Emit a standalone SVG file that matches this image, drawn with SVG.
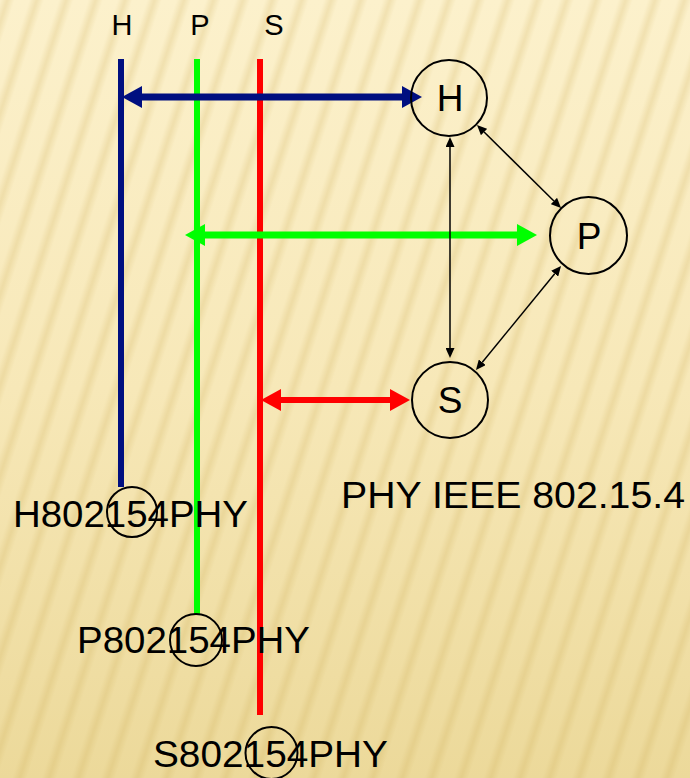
<svg xmlns="http://www.w3.org/2000/svg" width="690" height="778" viewBox="0 0 690 778">
  <defs>
    <linearGradient id="bg" x1="0" y1="0" x2="0" y2="1">
      <stop offset="0" stop-color="#fcf1cc"/>
      <stop offset="0.5" stop-color="#f7e8b8"/>
      <stop offset="1" stop-color="#ecd99a"/>
    </linearGradient>
    <linearGradient id="stripeGrad" x1="0" y1="0" x2="1" y2="0">
      <stop offset="0" stop-color="#c9a850" stop-opacity="0"/>
      <stop offset="0.5" stop-color="#c9a850" stop-opacity="0.22"/>
      <stop offset="1" stop-color="#c9a850" stop-opacity="0"/>
    </linearGradient>
    <pattern id="stripes" patternUnits="userSpaceOnUse" width="28" height="40" patternTransform="rotate(18)">
      <rect x="0" y="0" width="14" height="40" fill="url(#stripeGrad)"/>
    </pattern>
    <marker id="hBlue" markerUnits="userSpaceOnUse" viewBox="0 0 20 22" markerWidth="20" markerHeight="22" refX="0" refY="11" orient="auto-start-reverse">
      <path d="M0,0 L20,11 L0,22 Z" fill="#000f80"/>
    </marker>
    <marker id="hGreen" markerUnits="userSpaceOnUse" viewBox="0 0 20 22" markerWidth="20" markerHeight="22" refX="0" refY="11" orient="auto-start-reverse">
      <path d="M0,0 L20,11 L0,22 Z" fill="#00ff00"/>
    </marker>
    <marker id="hRed" markerUnits="userSpaceOnUse" viewBox="0 0 20 22" markerWidth="20" markerHeight="22" refX="0" refY="11" orient="auto-start-reverse">
      <path d="M0,0 L20,11 L0,22 Z" fill="#ff0000"/>
    </marker>
    <marker id="hBlack" markerUnits="userSpaceOnUse" viewBox="0 0 10 9" markerWidth="10" markerHeight="9" refX="0" refY="4.5" orient="auto-start-reverse">
      <path d="M0,0 L10,4.5 L0,9 Z" fill="#000"/>
    </marker>
  </defs>
  <style>
    text { font-family: "Liberation Sans", Arial, sans-serif; fill: #000; }
    .lbl { font-size: 29px; text-anchor: middle; }
    .node { font-size: 37px; text-anchor: middle; }
    .big { font-size: 37px; }
    .circ { fill: none; stroke: #000; stroke-width: 2; }
    .thin { fill: none; stroke: #000; stroke-width: 1.5; marker-start: url(#hBlack); marker-end: url(#hBlack); }
  </style>

  <rect x="0" y="0" width="690" height="778" fill="url(#bg)"/>
  <rect x="0" y="0" width="690" height="778" fill="url(#stripes)"/>

  <g id="lifelines">
    <line x1="121" y1="59" x2="121" y2="487" stroke="#000f80" stroke-width="6"/>
    <line x1="197" y1="59" x2="197" y2="614" stroke="#00ff00" stroke-width="6"/>
    <line x1="260" y1="59" x2="260" y2="715" stroke="#ff0000" stroke-width="6"/>
  </g>

  <g id="headers">
    <text class="lbl" x="122" y="35">H</text>
    <text class="lbl" x="200" y="35">P</text>
    <text class="lbl" x="274" y="35">S</text>
  </g>

  <g id="connectors">
    <line x1="142" y1="97" x2="402" y2="97" stroke="#000f80" stroke-width="7" marker-start="url(#hBlue)" marker-end="url(#hBlue)"/>
    <line x1="205" y1="235" x2="517" y2="235" stroke="#00ff00" stroke-width="7" marker-start="url(#hGreen)" marker-end="url(#hGreen)"/>
    <line x1="281" y1="400" x2="390" y2="400" stroke="#ff0000" stroke-width="6" marker-start="url(#hRed)" marker-end="url(#hRed)"/>
    <line class="thin" x1="450" y1="147" x2="450" y2="348"/>
    <line class="thin" x1="484.1" y1="132" x2="553.9" y2="201"/>
    <line class="thin" x1="554.7" y1="273.7" x2="482.3" y2="362.3"/>
  </g>

  <g id="node-H">
    <circle class="circ" cx="449" cy="98" r="38"/>
    <text class="node" x="450" y="111">H</text>
  </g>
  <g id="node-P">
    <circle class="circ" cx="588.5" cy="235.5" r="38.5"/>
    <text class="node" x="589" y="249">P</text>
  </g>
  <g id="node-S">
    <circle class="circ" cx="450" cy="400" r="38"/>
    <text class="node" x="450" y="413">S</text>
  </g>

  <g id="title">
    <text class="big" x="341" y="508" textLength="344" lengthAdjust="spacingAndGlyphs">PHY IEEE 802.15.4</text>
  </g>

  <g id="end-H">
    <text class="big" x="13" y="527" textLength="235" lengthAdjust="spacingAndGlyphs">H802154PHY</text>
    <circle class="circ" cx="132" cy="512" r="25"/>
  </g>
  <g id="end-P">
    <text class="big" x="77" y="653" textLength="233" lengthAdjust="spacingAndGlyphs">P802154PHY</text>
    <circle class="circ" cx="196" cy="640" r="26"/>
  </g>
  <g id="end-S">
    <text class="big" x="153" y="767" textLength="235" lengthAdjust="spacingAndGlyphs">S802154PHY</text>
    <circle class="circ" cx="271.5" cy="753" r="26"/>
  </g>
</svg>
